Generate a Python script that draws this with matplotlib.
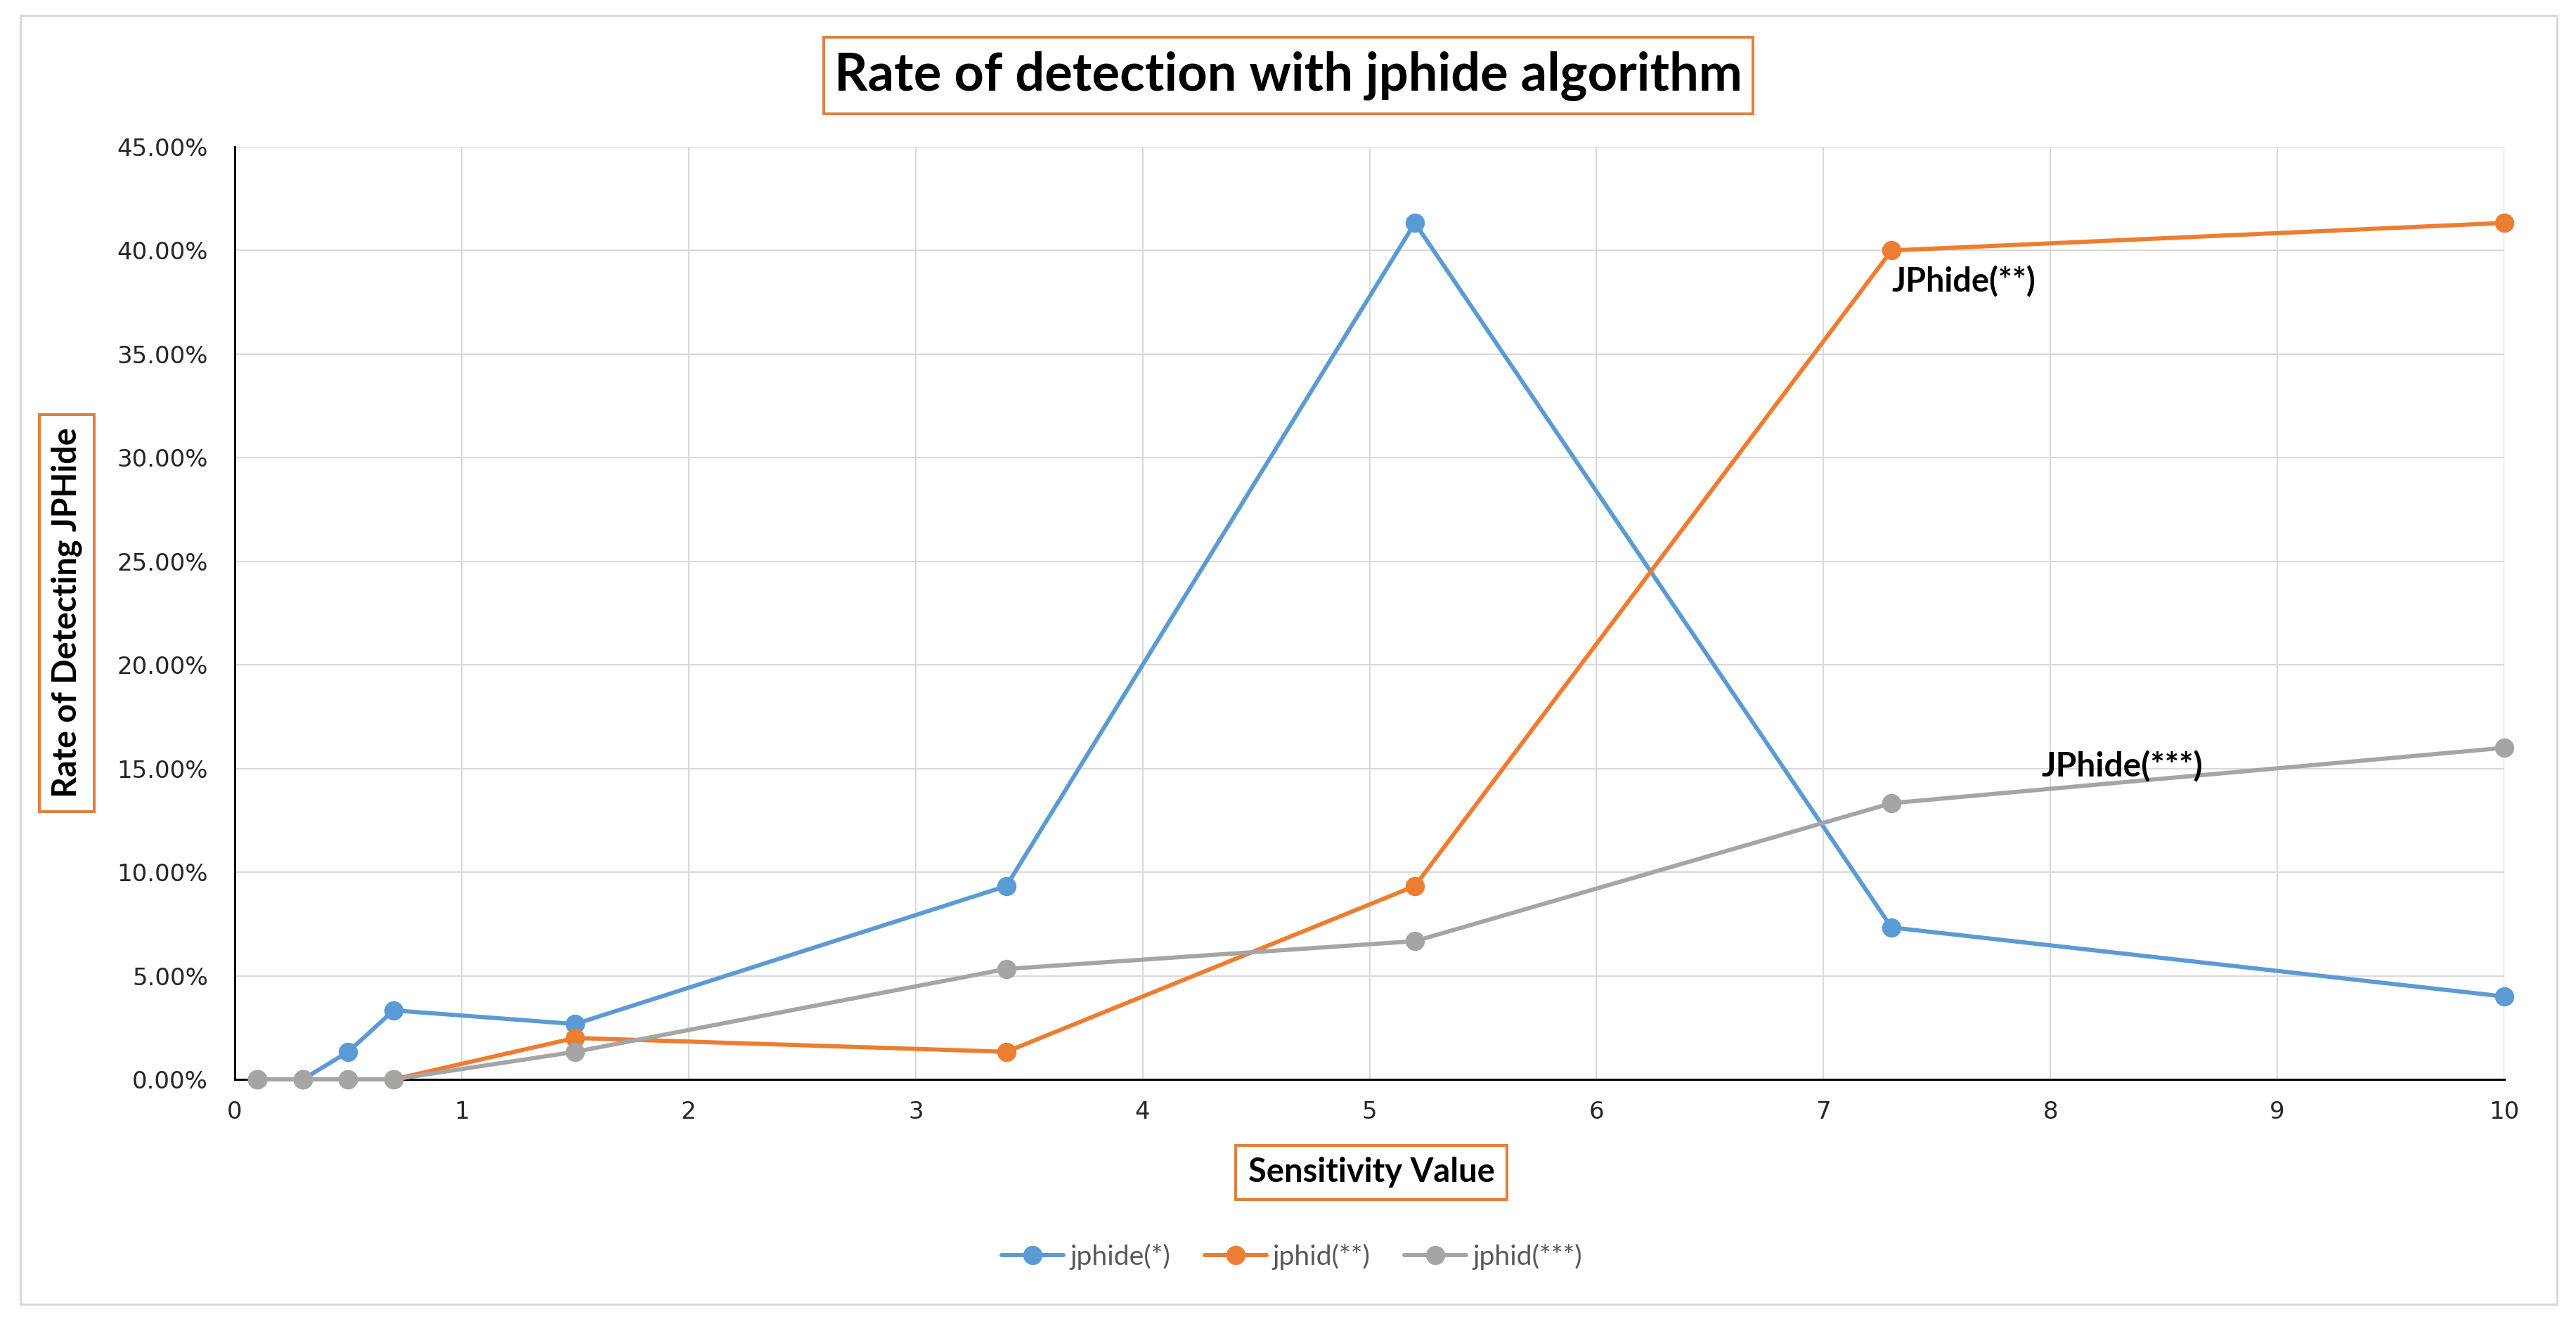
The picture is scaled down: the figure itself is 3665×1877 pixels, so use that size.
import matplotlib
matplotlib.use("Agg")
import matplotlib.pyplot as plt
from matplotlib.patches import Rectangle, FancyBboxPatch
from matplotlib.ticker import PercentFormatter, MultipleLocator

# ---- data ----
sensitivity = [0.1, 0.3, 0.5, 0.7, 1.5, 3.4, 5.2, 7.3, 10]
jphide_1 = [0.0, 0.0, 1.33, 3.33, 2.67, 9.33, 41.33, 7.33, 4.0]
jphid_2 = [0.0, 0.0, 0.0, 0.0, 2.0, 1.33, 9.33, 40.0, 41.33]
jphid_3 = [0.0, 0.0, 0.0, 0.0, 1.33, 5.33, 6.67, 13.33, 16.0]
series_names = ["jphide(*)", "jphid(**)", "jphid(***)"]
colors = ["#5B9BD5", "#ED7D31", "#A5A5A5"]
title = "Rate of detection with jphide algorithm"
xlabel = "Sensitivity Value"
ylabel = "Rate of Detecting JPHide"
annot_2 = ("JPhide(**)", 7.30, 38.0)
annot_3 = ("JPhide(***)", 7.96, 14.6)

W, H = 3666, 1877
DPI = 100
fig = plt.figure(figsize=(W / DPI, H / DPI), dpi=DPI)
fig.patch.set_facecolor("white")

def fx(px):
    return px / W

def fy(py):
    return 1 - py / H

L, R, T, B = 334, 3563, 209, 1536
ax = fig.add_axes([fx(L), fy(B), fx(R) - fx(L), fy(T) - fy(B)])

px2pt = 72 / DPI
for ys, c in zip([jphide_1, jphid_2, jphid_3], colors):
    ax.plot(sensitivity, ys, color=c, lw=6 * px2pt, marker="o",
            markersize=26 * px2pt, solid_capstyle="round", clip_on=False, zorder=3)

ax.set_xlim(0, 10)
ax.set_ylim(0, 45)
ax.xaxis.set_major_locator(MultipleLocator(1))
ax.yaxis.set_major_locator(MultipleLocator(5))
ax.yaxis.set_major_formatter(PercentFormatter(decimals=2))
ax.grid(True, color="#D9D9D9", lw=2 * px2pt, zorder=0)
ax.set_axisbelow(True)
for s in ["top", "right"]:
    ax.spines[s].set_visible(False)
for s in ["left", "bottom"]:
    ax.spines[s].set_color("black")
    ax.spines[s].set_linewidth(3 * px2pt)
    ax.spines[s].set_zorder(2)
ax.tick_params(length=0, labelsize=24.5, labelcolor="#262626")
ax.tick_params(axis="y", pad=38 * px2pt)
ax.tick_params(axis="x", pad=30 * px2pt)
for lab in ax.get_xticklabels() + ax.get_yticklabels():
    lab.set_family("DejaVu Sans")

# annotations
a2 = ax.text(annot_2[1], annot_2[2], annot_2[0], ha="left", va="baseline",
             fontsize=32, fontweight="bold", family="Lato", color="black", zorder=5)
a3 = ax.text(annot_3[1], annot_3[2], annot_3[0], ha="left", va="baseline",
             fontsize=32, fontweight="bold", family="Lato", color="black", zorder=5)

# boxes
orange_edge = "#E0803F"
def box(x0, y0, x1, y1, lw_px=4, color=orange_edge):
    fig.patches.append(Rectangle((fx(x0), fy(y1)), fx(x1) - fx(x0), fy(y0) - fy(y1),
                                 transform=fig.transFigure, fill=False,
                                 edgecolor=color, lw=lw_px * px2pt, zorder=10))

box(1172, 53, 2494, 162)
box(56, 590, 134, 1155)
box(1758, 1630, 2144, 1707)
# outer frame
box(29, 22, 3638, 1856, lw_px=3, color="#D9D9D9")

t_title = fig.text(fx(1833), fy(108), title, ha="center", va="center",
                   fontsize=50, fontweight="bold", family="Lato", color="black")
t_y = fig.text(fx(95), fy(872), ylabel, ha="center", va="center", rotation=90,
               fontsize=30, fontweight="bold", family="Lato", color="black")
t_x = fig.text(fx(1951), fy(1668), xlabel, ha="center", va="center",
               fontsize=30, fontweight="bold", family="Lato", color="black")

fig.canvas.draw()
r = fig.canvas.get_renderer()

def fit_w(t, target):
    w = t.get_window_extent(r).width
    t.set_fontsize(t.get_fontsize() * target / w)

def fit_h(t, target):
    h = t.get_window_extent(r).height
    t.set_fontsize(t.get_fontsize() * target / h)

fit_w(t_title, 1294)
fit_h(t_y, 526)
fit_w(t_x, 350)
fit_w(a2, 205)
fit_w(a3, 230)

# legend font size fit
tmp = fig.text(0, 0, series_names[0], fontsize=20, family="Lato")
w = tmp.get_window_extent(r).width
leg_fs = 20 * 143 / w
tmp.remove()
leg_px = leg_fs / px2pt
leg = fig.legend(series_names, loc="center", bbox_to_anchor=(fx(1838), fy(1788)),
                 ncol=3, frameon=False, prop={"family": "Lato", "size": leg_fs},
                 handlelength=88 / leg_px, handletextpad=9 / leg_px,
                 columnspacing=49 / leg_px, borderaxespad=0)
for txt in leg.get_texts():
    txt.set_color("#595959")

fig.savefig("out.png", dpi=DPI, facecolor="white")
